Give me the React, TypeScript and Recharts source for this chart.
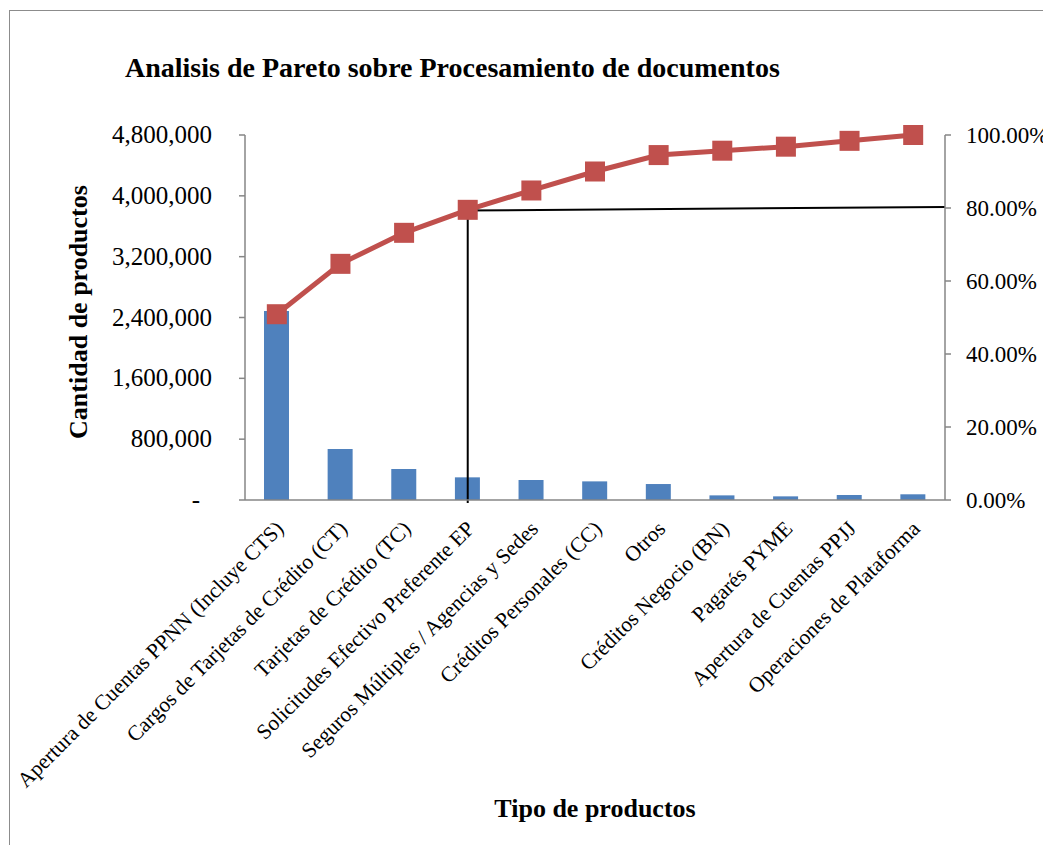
import React from 'react'
import {
  ComposedChart,
  Bar,
  Line,
  XAxis,
  YAxis,
  ReferenceLine,
} from 'recharts'

// tipos de producto, en orden de Pareto
const categorias = [
  'Apertura de Cuentas PPNN (Incluye CTS)',
  'Cargos de Tarjetas de Crédito (CT)',
  'Tarjetas de Crédito (TC)',
  'Solicitudes Efectivo Preferente EP',
  'Seguros Múltiples / Agencias y Sedes',
  'Créditos Personales (CC)',
  'Otros',
  'Créditos Negocio (BN)',
  'Pagarés PYME',
  'Apertura de Cuentas PPJJ',
  'Operaciones de Plataforma',
]

// cantidad de productos procesados
const cantidad = [2485000, 671000, 408000, 298000, 263000, 245000, 210000, 61000, 48000, 66000, 75000]

// porcentaje acumulado
const acumulado = [50.9, 64.7, 73.2, 79.5, 84.8, 90.0, 94.5, 95.7, 96.8, 98.4, 100]

const ticksCantidad = [0, 800000, 1600000, 2400000, 3200000, 4000000, 4800000]
const ticksPorcentaje = [0, 20, 40, 60, 80, 100]

// guias del 80% (y en %)
const corte = categorias[3]
const guiaHorizontal = [
  { x: corte, y: 79.3 },
  { x: categorias[10], y: 80.2 },
]
const guiaVertical = [
  { x: corte, y: 79.3 },
  { x: corte, y: -0.8 },
]

const data = categorias.map((name, i) => ({
  name,
  cantidad: cantidad[i],
  acumulado: acumulado[i],
}))

const FONT = '"Liberation Serif", "Times New Roman", serif'
const AXIS = '#868686'

function LeftTick({ x, y, payload }: any) {
  const v = payload.value as number
  if (v === 0) {
    return (
      <text x={x - 12} y={y} dy={8} textAnchor="end" fontFamily={FONT} fontSize={25} fill="#000">
        -
      </text>
    )
  }
  return (
    <text x={x} y={y} dy={8} textAnchor="end" fontFamily={FONT} fontSize={25} fill="#000">
      {v.toLocaleString('en-US')}
    </text>
  )
}

function RightTick({ x, y, payload }: any) {
  return (
    <text x={x} y={y} dy={8} textAnchor="start" fontFamily={FONT} fontSize={23} fill="#000">
      {`${(payload.value as number).toFixed(2)}%`}
    </text>
  )
}

function CategoryTick({ x, y, payload }: any) {
  return (
    <g transform={`translate(${x + 8},${y + 22})`}>
      <text textAnchor="end" transform="rotate(-45)" fontFamily={FONT} fontSize={21.5} fill="#000">
        {payload.value}
      </text>
    </g>
  )
}

function SquareDot({ cx, cy }: any) {
  if (cx == null || cy == null) return null
  return <rect x={cx - 10} y={cy - 10} width={20} height={20} fill="#C0504D" />
}

// the horizontal guide runs from the 4th point out to the right axis:
// 7 category steps between the segment ends, plus half a step to the edge
function GuiaHasta80(p: any) {
  const { x1, y1, x2, y2 } = p
  if ([x1, y1, x2, y2].some((v) => v == null || Number.isNaN(v))) return null
  const ext = 1 / 14
  return (
    <line
      x1={x1 - (x2 - x1) * 0.01}
      y1={y1}
      x2={x2 + (x2 - x1) * ext}
      y2={y2 + (y2 - y1) * ext}
      stroke="#000"
      strokeWidth={2}
    />
  )
}

export default function App() {
  return (
    <div style={{ position: 'relative', width: 1043, height: 837, overflow: 'hidden', background: '#fff' }}>
      <div
        style={{
          position: 'absolute',
          left: 1,
          top: 2,
          width: 1200,
          height: 1000,
          border: '1px solid #8c8c8c',
          boxSizing: 'border-box',
        }}
      />
      <div
        style={{
          position: 'absolute',
          left: 117,
          top: 46,
          fontFamily: FONT,
          fontWeight: 'bold',
          fontSize: 28,
          lineHeight: 1,
          whiteSpace: 'nowrap',
        }}
      >
        Analisis de Pareto sobre Procesamiento de documentos
      </div>
      <div
        style={{
          position: 'absolute',
          left: 71,
          top: 304,
          transform: 'translate(-50%, -50%) rotate(-90deg)',
          fontFamily: FONT,
          fontWeight: 'bold',
          fontSize: 26,
          lineHeight: 1,
          whiteSpace: 'nowrap',
        }}
      >
        Cantidad de productos
      </div>
      <div
        style={{
          position: 'absolute',
          left: 587,
          top: 788,
          transform: 'translateX(-50%)',
          fontFamily: FONT,
          fontWeight: 'bold',
          fontSize: 26,
          lineHeight: 1,
          whiteSpace: 'nowrap',
        }}
      >
        Tipo de productos
      </div>

      <div style={{ position: 'absolute', left: 0, top: 0 }}>
        <ComposedChart
          width={1043}
          height={837}
          data={data}
          margin={{ top: 127, right: 6, left: 127, bottom: 45 }}
        >
          <XAxis
            dataKey="name"
            interval={0}
            height={300}
            tick={<CategoryTick />}
            tickLine={false}
            axisLine={{ stroke: AXIS, strokeWidth: 1.5 }}
          />
          <YAxis
            yAxisId="left"
            width={110}
            domain={[0, 4800000]}
            ticks={ticksCantidad}
            interval={0}
            tick={<LeftTick />}
            tickSize={6}
            tickMargin={27}
            tickLine={{ stroke: AXIS, strokeWidth: 1.5 }}
            axisLine={{ stroke: AXIS, strokeWidth: 1.5 }}
          />
          <YAxis
            yAxisId="right"
            orientation="right"
            width={100}
            domain={[0, 100]}
            ticks={ticksPorcentaje}
            interval={0}
            tick={<RightTick />}
            tickSize={6}
            tickMargin={15}
            tickLine={{ stroke: AXIS, strokeWidth: 1.5 }}
            axisLine={{ stroke: AXIS, strokeWidth: 1.5 }}
          />
          <Bar
            yAxisId="left"
            dataKey="cantidad"
            fill="#4F81BD"
            barSize={25}
            isAnimationActive={false}
          />
          <Line
            yAxisId="right"
            dataKey="acumulado"
            stroke="#C0504D"
            strokeWidth={5}
            dot={<SquareDot />}
            activeDot={false}
            isAnimationActive={false}
          />
          <ReferenceLine
            yAxisId="right"
            segment={guiaHorizontal}
            shape={GuiaHasta80}
            ifOverflow="visible"
          />
          <ReferenceLine
            yAxisId="right"
            segment={guiaVertical}
            stroke="#000"
            strokeWidth={2}
            ifOverflow="visible"
          />
        </ComposedChart>
      </div>
    </div>
  )
}
